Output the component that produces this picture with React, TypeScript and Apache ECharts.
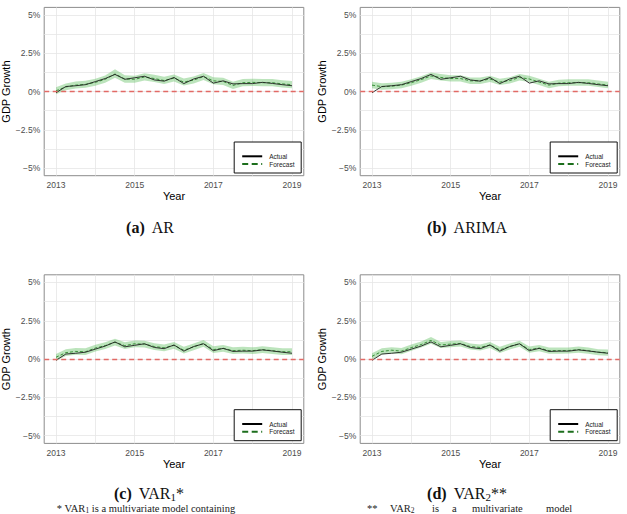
import React, { useEffect, useRef } from "react";
import * as echarts from "echarts";

// Quarterly observation dates
const quarters = [
  "2013Q1", "2013Q2", "2013Q3", "2013Q4",
  "2014Q1", "2014Q2", "2014Q3", "2014Q4",
  "2015Q1", "2015Q2", "2015Q3", "2015Q4",
  "2016Q1", "2016Q2", "2016Q3", "2016Q4",
  "2017Q1", "2017Q2", "2017Q3", "2017Q4",
  "2018Q1", "2018Q2", "2018Q3", "2018Q4",
  "2019Q1",
];

// Observed quarterly GDP growth (%)
const actual = [-0.08, 0.33, 0.38, 0.45, 0.65, 0.85, 1.12, 0.8, 0.9, 1.0, 0.76, 0.68, 0.92, 0.52, 0.82, 1.0, 0.55, 0.7, 0.5, 0.52, 0.52, 0.6, 0.53, 0.45, 0.38];

// AR model
const arForecast = [0.05, 0.3, 0.42, 0.47, 0.6, 0.8, 1.15, 0.82, 0.8, 0.95, 0.85, 0.72, 0.88, 0.62, 0.75, 0.98, 0.7, 0.66, 0.4, 0.58, 0.6, 0.58, 0.58, 0.5, 0.45];
const arLower = [-0.18, 0.08, 0.2, 0.25, 0.38, 0.57, 0.9, 0.58, 0.57, 0.72, 0.62, 0.49, 0.65, 0.39, 0.52, 0.75, 0.47, 0.43, 0.17, 0.35, 0.37, 0.35, 0.35, 0.27, 0.22];
const arUpper = [0.28, 0.53, 0.65, 0.7, 0.84, 1.05, 1.45, 1.06, 1.04, 1.19, 1.09, 0.96, 1.12, 0.86, 0.99, 1.22, 0.94, 0.9, 0.64, 0.82, 0.84, 0.82, 0.82, 0.74, 0.69];

// ARIMA model
const arimaForecast = [0.42, 0.32, 0.35, 0.42, 0.58, 0.78, 1.02, 0.92, 0.85, 0.85, 0.7, 0.7, 0.82, 0.62, 0.72, 0.92, 0.82, 0.62, 0.42, 0.55, 0.58, 0.58, 0.58, 0.5, 0.42];
const arimaLower = [0.22, 0.12, 0.15, 0.22, 0.38, 0.58, 0.82, 0.72, 0.65, 0.65, 0.5, 0.5, 0.62, 0.42, 0.52, 0.72, 0.62, 0.42, 0.22, 0.35, 0.38, 0.38, 0.38, 0.3, 0.22];
const arimaUpper = [0.64, 0.54, 0.57, 0.64, 0.8, 1.0, 1.24, 1.14, 1.07, 1.07, 0.92, 0.92, 1.04, 0.84, 0.94, 1.14, 1.04, 0.84, 0.64, 0.77, 0.8, 0.8, 0.8, 0.72, 0.64];

// VAR1 model
const var1Forecast = [0.12, 0.42, 0.5, 0.48, 0.72, 0.88, 1.1, 0.88, 1.0, 0.98, 0.82, 0.74, 0.9, 0.58, 0.8, 1.02, 0.62, 0.7, 0.55, 0.58, 0.55, 0.62, 0.55, 0.48, 0.48];
const var1Lower = [-0.1, 0.2, 0.28, 0.26, 0.5, 0.66, 0.88, 0.66, 0.78, 0.76, 0.6, 0.52, 0.68, 0.36, 0.58, 0.8, 0.4, 0.48, 0.33, 0.36, 0.33, 0.4, 0.33, 0.26, 0.26];
const var1Upper = [0.34, 0.64, 0.72, 0.7, 0.94, 1.1, 1.32, 1.1, 1.22, 1.2, 1.04, 0.96, 1.12, 0.8, 1.02, 1.24, 0.84, 0.92, 0.77, 0.8, 0.77, 0.84, 0.77, 0.7, 0.7];

// VAR2 model
const var2Forecast = [0.18, 0.5, 0.58, 0.52, 0.75, 0.95, 1.22, 0.92, 0.98, 1.02, 0.82, 0.76, 0.92, 0.6, 0.82, 1.0, 0.62, 0.72, 0.55, 0.55, 0.56, 0.62, 0.55, 0.45, 0.42];
const var2Lower = [-0.02, 0.3, 0.38, 0.32, 0.55, 0.75, 1.0, 0.72, 0.78, 0.82, 0.62, 0.56, 0.72, 0.4, 0.62, 0.8, 0.42, 0.52, 0.35, 0.35, 0.36, 0.42, 0.35, 0.25, 0.22];
const var2Upper = [0.38, 0.7, 0.78, 0.72, 0.95, 1.15, 1.44, 1.12, 1.18, 1.22, 1.02, 0.96, 1.12, 0.8, 1.02, 1.2, 0.82, 0.92, 0.75, 0.75, 0.76, 0.82, 0.75, 0.65, 0.62];

// Axis breaks
const yearGrid = [2013, 2014, 2015, 2016, 2017, 2018, 2019];
const yearLabels = [2013, 2015, 2017, 2019];
const growthGrid = [-5, -3.75, -2.5, -1.25, 0, 1.25, 2.5, 3.75, 5];
const growthLabels = [-5, -2.5, 0, 2.5, 5];

const SANS = '"Liberation Sans", Arial, Helvetica, sans-serif';
const SERIF = '"Liberation Serif", "Times New Roman", serif';

const toYear = (q: string) => Number(q.slice(0, 4)) + (Number(q.slice(5)) - 1) / 4;
const xs = quarters.map(toYear);

const PANEL_W = 259.6;

const panels = [
  { forecast: arForecast, lower: arLower, upper: arUpper, left: 44.2, top: 7.4, height: 168.3 },
  { forecast: arimaForecast, lower: arimaLower, upper: arimaUpper, left: 360.2, top: 7.4, height: 168.3 },
  { forecast: var1Forecast, lower: var1Lower, upper: var1Upper, left: 44.2, top: 274.8, height: 168.6 },
  { forecast: var2Forecast, lower: var2Lower, upper: var2Upper, left: 360.2, top: 274.8, height: 168.6 },
];

const fmtGrowth = (v: number) => (v === 0 ? "0%" : (v < 0 ? "\u2212" : "") + Math.abs(v) + "%");

function buildOption() {
  const grid = panels.map((p) => ({
    left: p.left,
    top: p.top,
    width: PANEL_W,
    height: p.height,
    show: true,
    borderColor: "#8c8c8c",
    borderWidth: 1,
    backgroundColor: "#fff",
    containLabel: false,
    outerBoundsMode: "none",
  }));

  const xAxis = panels.map((_, i) => ({
    type: "value",
    gridIndex: i,
    min: 2012.7,
    max: 2019.3,
    name: "Year",
    nameLocation: "middle",
    nameGap: 15,
    nameTextStyle: { fontSize: 11, color: "#000", fontFamily: SANS },
    axisLine: { show: false },
    axisTick: { show: false, customValues: yearGrid },
    axisLabel: {
      customValues: yearLabels,
      fontSize: 8.5,
      color: "#4d4d4d",
      fontFamily: SANS,
      margin: 5,
      formatter: (v: number) => String(v),
    },
    splitLine: { show: true, lineStyle: { color: "#e6e6e6", width: 0.8 } },
  }));

  const yAxis = panels.map((_, i) => ({
    type: "value",
    gridIndex: i,
    min: -5.5,
    max: 5.5,
    name: "GDP Growth",
    nameLocation: "middle",
    nameGap: 31,
    nameRotate: 90,
    nameTextStyle: { fontSize: 11, color: "#000", fontFamily: SANS },
    axisLine: { show: false },
    axisTick: { show: false, customValues: growthGrid },
    axisLabel: {
      customValues: growthLabels,
      fontSize: 8.5,
      color: "#4d4d4d",
      fontFamily: SANS,
      margin: 4,
      formatter: fmtGrowth,
    },
    splitLine: { show: true, lineStyle: { color: "#e6e6e6", width: 0.8 } },
  }));

  const series: any[] = [];
  panels.forEach((p, i) => {
    // confidence ribbon drawn as one polygon through the upper then lower bounds
    series.push({
      type: "custom",
      name: "Interval",
      xAxisIndex: i,
      yAxisIndex: i,
      silent: true,
      z: 1,
      data: xs.map((x, k) => [x, p.lower[k], p.upper[k]]),
      encode: { x: 0, y: [1, 2] },
      renderItem: (params: any, api: any) => {
        if (params.dataIndex !== 0) return null;
        const pts: number[][] = [];
        for (let k = 0; k < xs.length; k++) pts.push(api.coord([xs[k], p.upper[k]]));
        for (let k = xs.length - 1; k >= 0; k--) pts.push(api.coord([xs[k], p.lower[k]]));
        return {
          type: "polygon",
          shape: { points: pts },
          style: { fill: "rgba(95, 190, 95, 0.42)" },
        };
      },
    });
    series.push({
      type: "line",
      name: "Forecast",
      xAxisIndex: i,
      yAxisIndex: i,
      z: 3,
      symbol: "none",
      data: xs.map((x, k) => [x, p.forecast[k]]),
      lineStyle: { color: "#2a862a", width: 0.9, type: [3, 2] },
    });
    series.push({
      type: "line",
      name: "Actual",
      xAxisIndex: i,
      yAxisIndex: i,
      z: 4,
      symbol: "none",
      data: xs.map((x, k) => [x, actual[k]]),
      lineStyle: { color: "#1f1f1f", width: 0.9 },
      markLine: {
        silent: true,
        symbol: ["none", "none"],
        label: { show: false },
        lineStyle: { color: "#e26a66", type: [5, 3.5], width: 1.3 },
        data: [{ yAxis: 0 }],
      },
    });
  });

  const graphic: any[] = [];
  // legend boxes in the lower right corner of every panel
  panels.forEach((p) => {
    const bx = p.left + PANEL_W - 2.6 - 67;
    const by = p.top + p.height - 2.7 - 31;
    graphic.push(
      {
        type: "rect",
        z: 100,
        shape: { x: bx, y: by, width: 67, height: 31 },
        style: { fill: "#fff", stroke: "#111", lineWidth: 1 },
      },
      {
        type: "line",
        z: 101,
        shape: { x1: bx + 8, y1: by + 14.3, x2: bx + 28, y2: by + 14.3 },
        style: { stroke: "#000", lineWidth: 2 },
      },
      {
        type: "line",
        z: 101,
        shape: { x1: bx + 8, y1: by + 22, x2: bx + 28, y2: by + 22 },
        style: { stroke: "#1c6e1c", lineWidth: 2, lineDash: [6, 3.5] },
      },
      {
        type: "text",
        z: 101,
        x: bx + 35,
        y: by + 14.3,
        style: { text: "Actual", fontSize: 6.5, fontFamily: SANS, fill: "#222", verticalAlign: "middle", align: "left" },
      },
      {
        type: "text",
        z: 101,
        x: bx + 35,
        y: by + 22,
        style: { text: "Forecast", fontSize: 6.5, fontFamily: SANS, fill: "#222", verticalAlign: "middle", align: "left" },
      }
    );
  });

  const capRich = {
    b: { fontSize: 16, fontWeight: "bold", fontFamily: SERIF, fill: "#111", lineHeight: 19, padding: [0, 7, 0, 0] },
    n: { fontSize: 16, fontFamily: SERIF, fill: "#111", lineHeight: 19 },
    s: { fontSize: 11, fontFamily: SERIF, fill: "#111", lineHeight: 11, verticalAlign: "bottom" },
  };
  const caption = (x: number, y: number, text: string) => ({
    type: "text",
    x,
    y,
    style: { text, rich: capRich, align: "center", verticalAlign: "middle", fontFamily: SERIF, fontSize: 16, fill: "#111" },
  });
  graphic.push(
    caption(150, 227, "{b|(a)}{n|AR}"),
    caption(467, 227, "{b|(b)}{n|ARIMA}"),
    caption(149, 493, "{b|(c)}{n|VAR}{s|1}{n|*}"),
    caption(467, 493, "{b|(d)}{n|VAR}{s|2}{n|**}")
  );

  const noteRich = {
    n: { fontSize: 10.5, fontFamily: SERIF, fill: "#222", lineHeight: 11 },
    s: { fontSize: 7.5, fontFamily: SERIF, fill: "#222", lineHeight: 6, verticalAlign: "bottom" },
  };
  const note = (x: number, y: number, text: string, align = "left") => ({
    type: "text",
    x,
    y,
    style: { text, rich: noteRich, align, verticalAlign: "middle", fontFamily: SERIF, fontSize: 10.5, fill: "#222" },
  });
  graphic.push(note(146, 508.5, "{n|* VAR}{s|1}{n| is a multivariate model containing}", "center"));
  // justified footnote line under panel (d)
  graphic.push(
    note(367, 508.5, "{n|**}"),
    note(390, 508.5, "{n|VAR}{s|2}"),
    note(432, 508.5, "{n|is}"),
    note(452, 508.5, "{n|a}"),
    note(472, 508.5, "{n|multivariate}"),
    note(546, 508.5, "{n|model}")
  );

  return {
    animation: false,
    backgroundColor: "#ffffff",
    grid,
    xAxis,
    yAxis,
    series,
    graphic,
  };
}

export default function App() {
  const ref = useRef<HTMLDivElement>(null);
  useEffect(() => {
    if (!ref.current) return;
    const chart = echarts.init(ref.current, undefined, { renderer: "svg" });
    chart.setOption(buildOption() as any);
    return () => chart.dispose();
  }, []);
  return (
    <div
      ref={ref}
      style={{ position: "absolute", left: 0, top: 0, width: 627, height: 514, background: "#fff" }}
    />
  );
}
